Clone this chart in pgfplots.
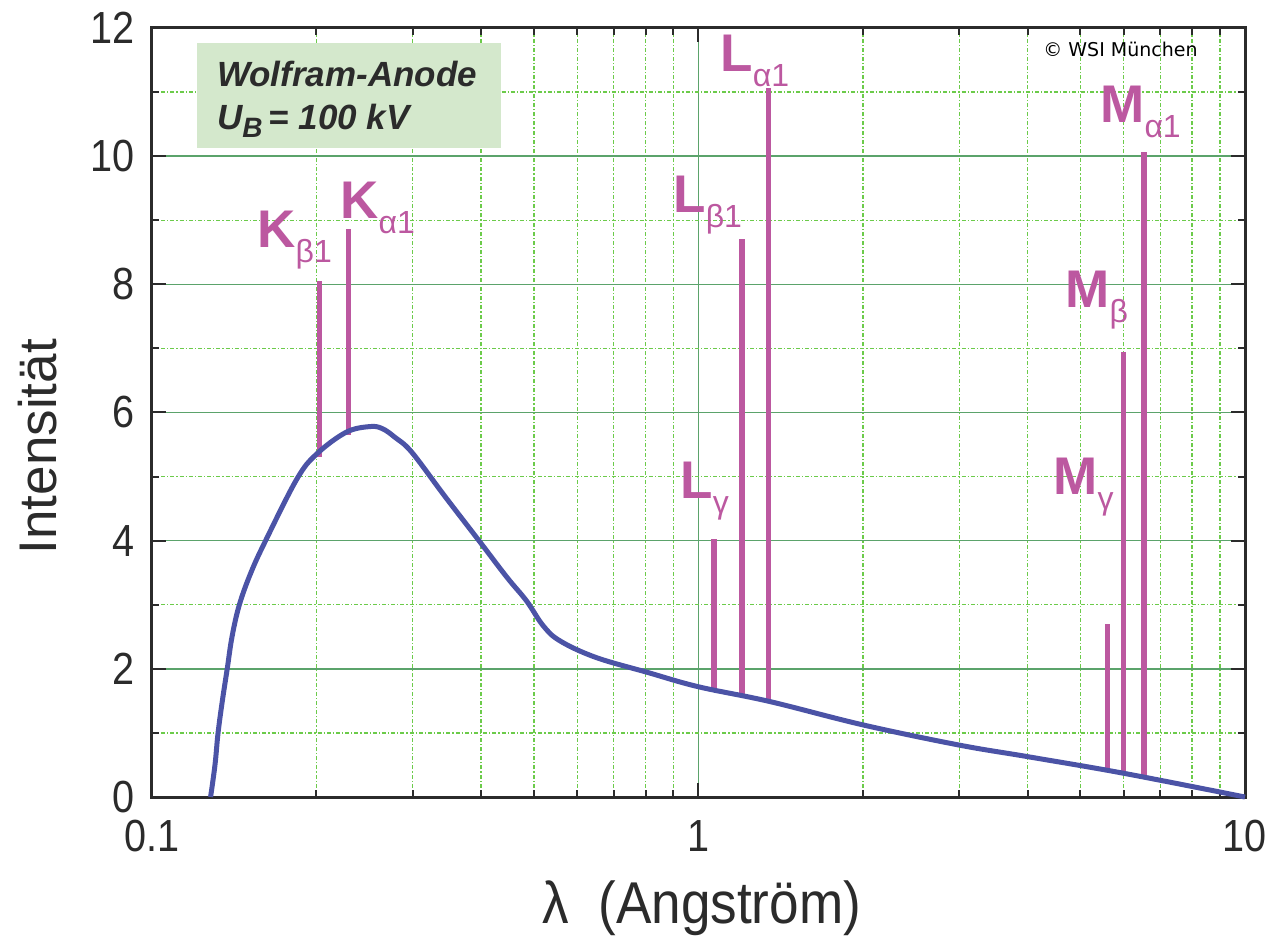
\documentclass[border=0pt]{standalone}
\usepackage{fontspec}
\setmainfont{Liberation Sans}
\newfontfamily\narrowfont[FakeStretch=0.88]{Liberation Sans}
\newfontfamily\labelfont[FakeStretch=0.9]{Liberation Sans}
\newfontfamily\dejavu{DejaVu Sans}
\usepackage{pgfplots}
\pgfplotsset{compat=1.18}

\definecolor{majgrid}{HTML}{5BA36B}
\definecolor{mingrid}{HTML}{6CCB4A}
\definecolor{spec}{HTML}{4B53A6}
\definecolor{lines}{HTML}{BC58A0}
\definecolor{boxfill}{HTML}{D4E8CC}
\definecolor{txt}{HTML}{2B2B2B}

% spectral line label: bold letter + lowered regular subscript
\newcommand\lab[2]{\fontsize{26.5}{26.5}\selectfont\bfseries #1\raisebox{-7.5pt}{\fontsize{16}{16}\mdseries\selectfont #2}}

\begin{document}
\begin{tikzpicture}
\begin{axis}[
    xmode=log,
    width=546.5pt, height=384.5pt, scale only axis,
    xmin=0.1, xmax=10, ymin=0, ymax=12,
    xtick={0.1,1,10}, xticklabels={0.1,1,10},
    minor xtick={0.2,0.3,0.4,0.5,0.6,0.7,0.8,0.9,2,3,4,5,6,7,8,9},
    ytick={0,2,...,12}, minor ytick={1,3,...,11},
    /pgf/number format/assume math mode=true,
    tick align=inside, tick pos=both,
    xticklabel pos=lower, yticklabel pos=left,
    major tick length=7pt, minor tick length=3.5pt,
    every tick/.append style={txt, line width=1pt},
    axis line style={txt, line width=1.5pt},
    grid=both,
    major grid style={majgrid, line width=0.75pt},
    minor grid style={mingrid, line width=0.6pt, dash pattern=on 2pt off 1pt on 0.6pt off 1pt},
    ticklabel style={font=\narrowfont\fontsize{22.5}{27}\selectfont, text=txt, inner sep=0pt},
    xticklabel style={yshift=-11.5pt},
    yticklabel style={xshift=-8.5pt},
    xlabel={λ\ \ (Angström)},
    ylabel={Intensität},
    xlabel style={at={([yshift=-63pt]rel axis cs:0.503,0)}, anchor=base,
        font=\labelfont\fontsize{29.5}{32}\selectfont, text=txt, inner sep=0pt},
    ylabel style={at={([xshift=-47.5pt]rel axis cs:0,0.4555)}, anchor=base,
        font=\fontsize{26.5}{30}\selectfont, text=txt, inner sep=0pt},
    clip=false,
]

% characteristic lines
\addplot[lines, line width=2.6pt, forget plot] coordinates {(0.2028,5.30) (0.2028,8.05)};
\addplot[lines, line width=2.8pt, forget plot] coordinates {(0.2287,5.65) (0.2287,8.87)};
\addplot[lines, line width=2.8pt, forget plot] coordinates {(1.067,1.68) (1.067,4.03)};
\addplot[lines, line width=2.8pt, forget plot] coordinates {(1.20,1.60) (1.20,8.71)};
\addplot[lines, line width=2.8pt, forget plot] coordinates {(1.343,1.52) (1.343,11.06)};
\addplot[lines, line width=2.4pt, forget plot] coordinates {(5.61,0.42) (5.61,2.70)};
\addplot[lines, line width=2.6pt, forget plot] coordinates {(6.0,0.38) (6.0,6.94)};
\addplot[lines, line width=3.3pt, forget plot] coordinates {(6.54,0.33) (6.54,10.07)};

% continuous spectrum
\addplot[spec, line width=2.5pt, smooth, tension=0.6] coordinates {
    (0.128,0) (0.1304,0.5) (0.1321,1.0) (0.1345,1.5) (0.1373,2.0) (0.1401,2.5)
    (0.1445,3.0) (0.1517,3.5) (0.1614,4.0)
    (0.1841,4.96) (0.2,5.35) (0.2264,5.69) (0.250,5.78) (0.2637,5.75) (0.2786,5.61)
    (0.2988,5.38) (0.343,4.70) (0.3966,4.0) (0.446,3.43) (0.4846,3.06)
    (0.519,2.68) (0.557,2.44) (0.648,2.18) (0.81,1.94) (1.0,1.72)
    (1.35,1.49) (2.0,1.125) (3.0,0.81) (4.0,0.63) (6.0,0.37) (10,0)
};

% info box
\fill[boxfill] (rel axis cs:0.0409,0.8443) rectangle (rel axis cs:0.319,0.9809);
\node[anchor=base west, inner sep=0pt, text=txt, font=\fontsize{17.5}{20}\selectfont\bfseries\itshape]
    at (rel axis cs:0.0592,0.9237) {Wolfram-Anode};
\node[anchor=base west, inner sep=0pt, text=txt, font=\fontsize{17.5}{20}\selectfont\bfseries\itshape]
    at (rel axis cs:0.0592,0.8674) {U\raisebox{-4pt}{\fontsize{14}{14}\selectfont B}\,= 100 kV};

\node[anchor=base west, inner sep=0pt, font=\dejavu\fontsize{9.5}{11}\selectfont]
    at (rel axis cs:0.8152,0.9623) {© WSI München};

% line labels
\begin{scope}[every node/.style={anchor=base west, inner sep=0pt, text=lines}]
\node at (rel axis cs:0.0961,0.7152) {\lab{K}{β1}};
\node at (rel axis cs:0.1720,0.7529) {\lab{K}{α1}};
\node at (rel axis cs:0.4767,0.7607) {\lab{L}{β1}};
\node at (rel axis cs:0.4831,0.3888) {\lab{L}{γ}};
\node at (rel axis cs:0.5197,0.9428) {\lab{L}{α1}};
\node at (rel axis cs:0.8673,0.8765) {\lab{M}{α1}};
\node at (rel axis cs:0.8353,0.6359) {\lab{M}{β}};
\node at (rel axis cs:0.8243,0.3940) {\lab{M}{γ}};
\end{scope}

\coordinate (bl) at (rel axis cs:0,0);
\coordinate (tr) at (rel axis cs:1,1);
\end{axis}
\pgfresetboundingbox
\path ([shift={(-76pt,-69.5pt)}]bl) rectangle ([shift={(16.5pt,14pt)}]tr);
\end{tikzpicture}
\end{document}
